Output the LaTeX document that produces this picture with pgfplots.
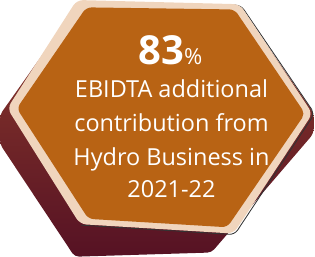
\documentclass[border=0pt]{standalone}
\usepackage{pgfplots}
\pgfplotsset{compat=1.18}
\usepackage{fontspec}
\setmainfont{Open Sans}
\definecolor{orng}{HTML}{B86314}
\definecolor{beige}{HTML}{F0D5BD}
\definecolor{mtop}{HTML}{8E3C2C}
\definecolor{mbot}{HTML}{561224}
\begin{document}
\begin{tikzpicture}
\begin{axis}[
  scale only axis, width=315pt, height=255pt,
  xmin=0, xmax=315, ymin=0, ymax=255, y dir=reverse,
  hide axis, clip=false]
% dark base
\addplot[draw=none, top color=mtop, bottom color=mbot, rounded corners=4pt] coordinates {
(90,12) (243,15) (313,116) (313,136) (216,249) (86,253) (15,146) (15,118)} -- cycle;
% shadow line
\addplot[draw=black!80, line width=0.8pt, rounded corners=5pt] coordinates {
(100,11) (244,14) (314,117) (238,232) (92,223)};
% beige rim
\addplot[draw=none, fill=beige, rounded corners=6pt] coordinates {
(88,9) (243,13) (312,117) (237,231) (91,222) (22,112)} -- cycle;
% orange face
\addplot[draw=none, fill=orng, rounded corners=5pt] coordinates {
(97,16) (238,18) (305,117) (231,225) (99,217) (31,112)} -- cycle;
\node[white, anchor=base, inner sep=0pt, font=\fontsize{38}{38}\selectfont\bfseries] at (axis cs:177,70) {83\fontsize{21}{21}\selectfont\mdseries\%};
\node[white, anchor=base, inner sep=0pt, font=\fontsize{22.3}{22.3}\selectfont] at (axis cs:178,102) {EBIDTA additional};
\node[white, anchor=base, inner sep=0pt, font=\fontsize{22.3}{22.3}\selectfont] at (axis cs:178,134) {contribution from};
\node[white, anchor=base, inner sep=0pt, font=\fontsize{22.3}{22.3}\selectfont] at (axis cs:178,166) {Hydro Business in};
\node[white, anchor=base, inner sep=0pt, font=\fontsize{22.3}{22.3}\selectfont] at (axis cs:178,197) {2021-22};
\end{axis}
\end{tikzpicture}
\end{document}
